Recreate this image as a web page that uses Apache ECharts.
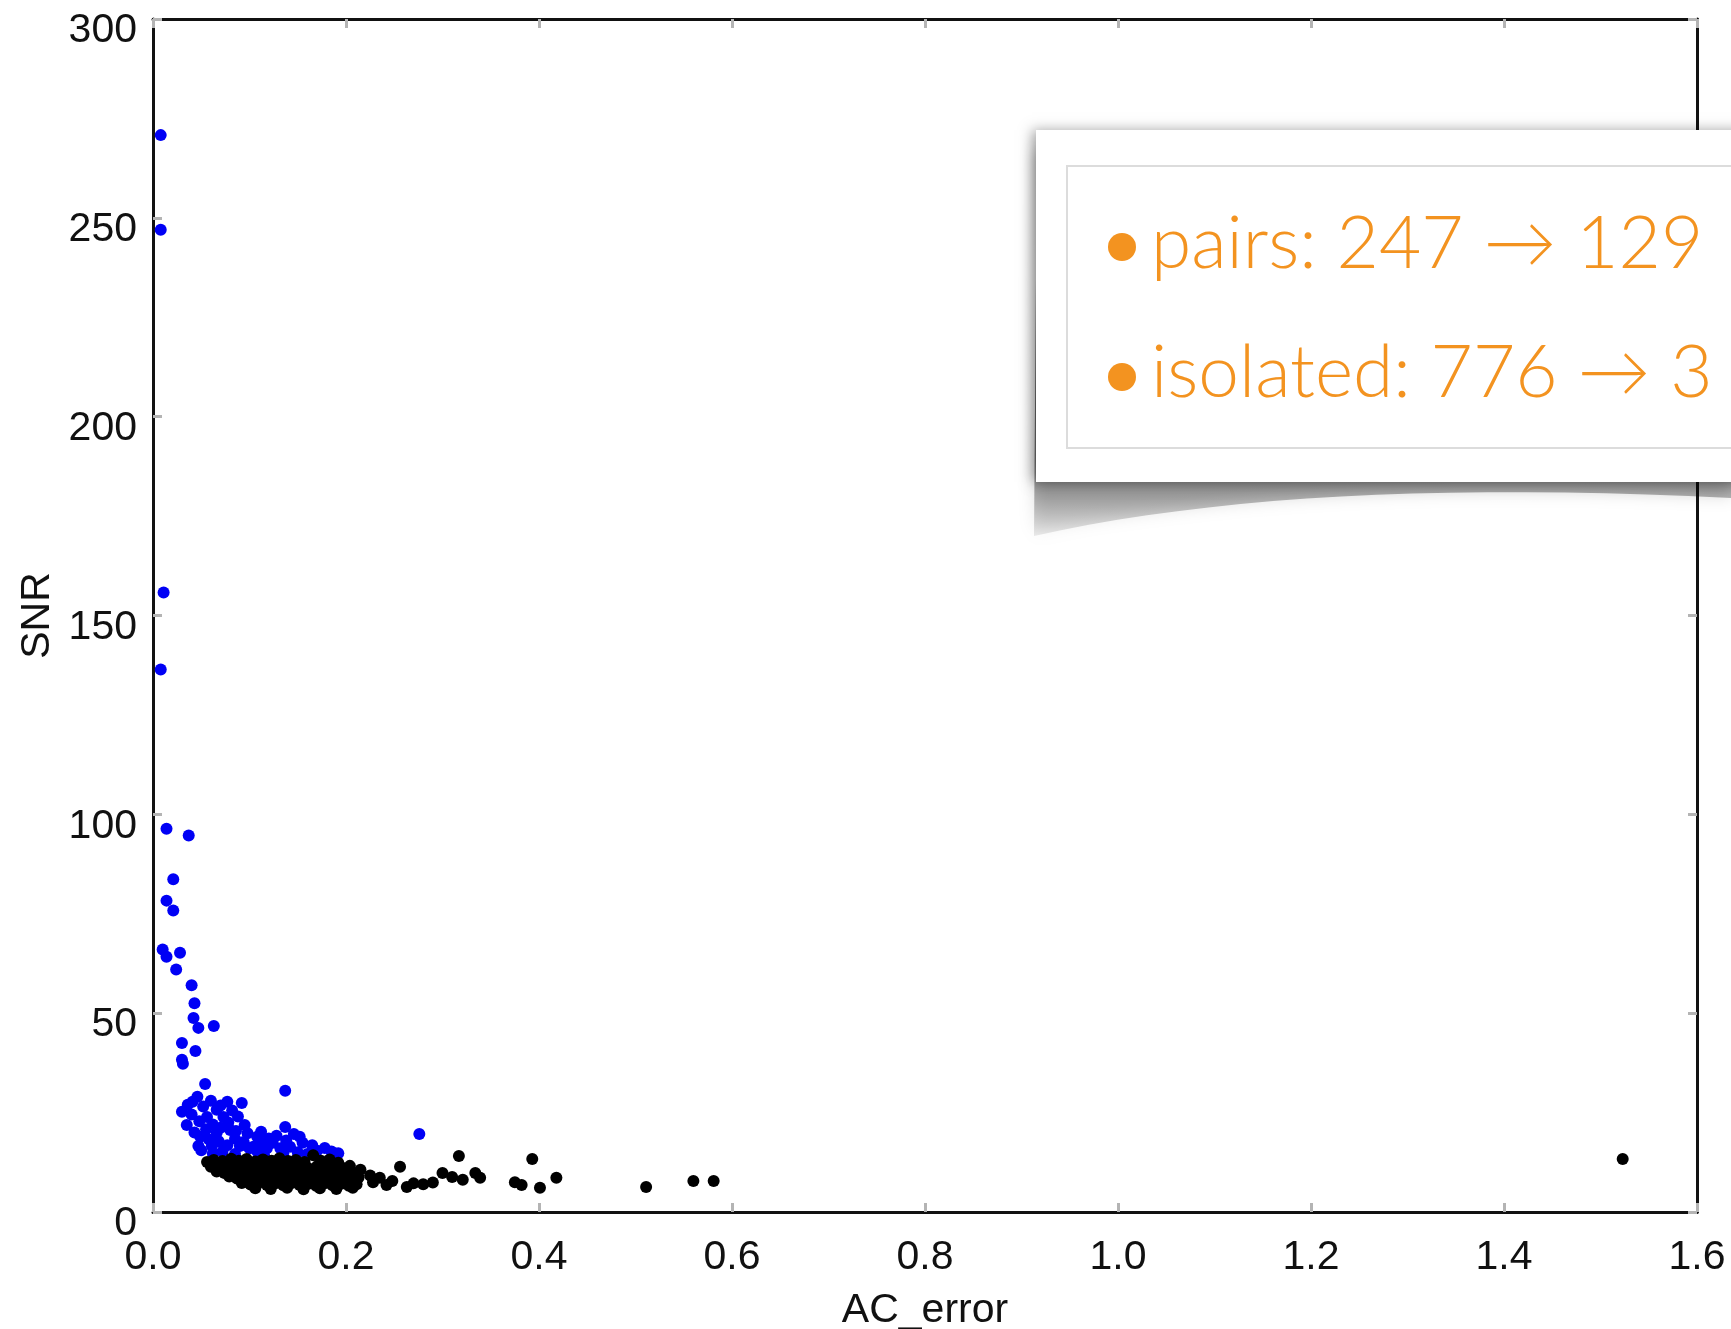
<!DOCTYPE html>
<html>
<head>
<meta charset="utf-8">
<script src="https://cdn.jsdelivr.net/npm/echarts@6/dist/echarts.min.js"></script>
<style>
  html, body { margin: 0; padding: 0; background: #fff; }
  #chart_1 { width: 1731px; height: 1329px; }
</style>
</head>
<body>
<div id="chart_1"></div>
<script>
// tick values
var xTicks = [0, 0.2, 0.4, 0.6, 0.8, 1.0, 1.2, 1.4, 1.6];
var yTicks = [0, 50, 100, 150, 200, 250, 300];

// blue points [AC_error, SNR]
var bluePts = [
    [0.008,270.8],[0.008,247],[0.011,155.8],[0.008,136.4],[0.014,96.4],[0.037,94.7],
    [0.021,83.7],[0.014,78.3],[0.021,75.8],[0.010,66],[0.014,64.2],[0.028,65.2],
    [0.024,61],[0.040,57],[0.043,52.5],[0.042,48.8],[0.047,46.3],[0.063,46.8],
    [0.030,42.5],[0.044,40.5],[0.030,38.3],[0.031,37.3],[0.054,32.2],[0.137,30.5],
    [0.046,29],[0.041,27.7],[0.077,27.7],[0.092,27.4],[0.030,25.2],[0.066,25.7],
    [0.056,23.9],[0.073,23.9],[0.035,21.9],[0.095,21.9],[0.137,21.4],[0.276,19.6],
    [0.152,18.9],[0.049,18.9],[0.066,19.9],[0.080,20.6],[0.108,18.9],
    [0.047,16.6],[0.061,16.6],[0.077,16.8],[0.090,16.6],[0.104,16.4],[0.118,16.0],
    [0.132,16.0],[0.142,16.4],[0.178,16.1],[0.192,14.8],
    [0.036,27.0],[0.052,26.5],[0.060,28.0],[0.070,26.8],[0.082,25.5],[0.088,24.0],
    [0.040,24.5],[0.048,22.8],[0.062,22.0],[0.070,21.2],[0.078,22.5],[0.086,20.4],
    [0.098,19.8],[0.112,20.2],[0.120,18.5],[0.128,19.2],[0.043,20.0],[0.055,20.8],
    [0.058,18.2],[0.068,17.8],[0.085,18.4],[0.094,17.6],[0.100,16.0],[0.112,17.2],
    [0.124,17.4],[0.138,18.0],[0.146,19.6],[0.155,17.4],[0.165,16.8],[0.050,15.5],
    [0.072,15.2],[0.108,15.3],[0.150,15.0],[0.170,15.4],[0.160,14.6],[0.135,14.8],
    [0.115,14.4],[0.085,14.6],[0.062,14.7],[0.185,15.2]
];

// black points [AC_error, SNR]
var blackPts = [
    [0.056,12.6],[0.063,13.1],[0.072,12.8],[0.081,13.4],[0.089,12.9],[0.097,13.3],
    [0.106,12.7],[0.114,13.2],[0.123,12.9],[0.131,13.5],[0.140,12.8],[0.148,13.1],
    [0.157,12.6],[0.166,14.3],[0.174,12.9],[0.183,13.2],[0.192,12.4],
    [0.060,11.4],[0.068,11.9],[0.076,11.2],[0.085,11.7],[0.093,11.3],[0.102,11.8],
    [0.110,11.1],[0.119,11.6],[0.127,11.3],[0.136,11.9],[0.144,11.2],[0.153,11.7],
    [0.161,11.0],[0.170,11.5],[0.178,11.2],[0.187,11.8],[0.196,11.1],[0.204,11.6],
    [0.066,10.2],[0.074,9.8],[0.083,10.4],[0.091,9.9],[0.099,10.3],[0.108,9.7],
    [0.116,10.2],[0.125,9.8],[0.133,10.4],[0.142,9.9],[0.150,10.3],[0.159,9.6],
    [0.167,10.1],[0.176,9.8],[0.184,10.3],[0.193,9.7],[0.201,10.2],[0.210,9.6],[0.215,10.6],
    [0.079,8.9],[0.087,8.4],[0.096,8.8],[0.104,8.3],[0.113,8.7],[0.121,8.2],
    [0.130,8.8],[0.138,8.3],[0.147,8.6],[0.155,8.1],[0.164,8.7],[0.172,8.2],
    [0.181,8.6],[0.189,8.1],[0.198,8.8],[0.206,8.3],[0.213,8.7],
    [0.092,7.3],[0.101,6.9],[0.110,7.4],[0.118,6.8],[0.127,7.2],[0.135,6.7],
    [0.144,7.3],[0.152,6.8],[0.161,7.1],[0.169,6.6],[0.178,7.2],[0.186,6.7],
    [0.195,7.1],[0.203,6.6],[0.211,7.0],
    [0.106,6.0],[0.122,5.8],[0.139,6.1],[0.156,5.7],[0.173,6.0],[0.190,5.8],[0.207,6.1],
    [0.225,9.2],[0.235,8.6],[0.248,7.8],[0.270,7.2],
    [0.317,14.1],[0.393,13.3],[0.256,11.4],[0.228,7.5],[0.242,6.8],[0.263,6.3],
    [0.280,7.0],[0.290,7.4],[0.300,9.8],[0.310,8.8],[0.321,8.1],[0.334,9.8],
    [0.339,8.6],[0.375,7.5],[0.382,6.8],[0.401,6.1],[0.418,8.6],[0.511,6.3],
    [0.560,7.8],[0.581,7.8],[1.523,13.3]
];

// callout text
var calloutLines = ['pairs: 247 \u2192 129', 'isolated: 776 \u2192 3'];

initChart();

// outline of the curled shadow under the callout (decoration only)
function curlShadow(){
    var pts = [[1037, 150], [1731, 150], [1731, 498]];
    for (var i = 1; i <= 20; i++) {
        var t = i / 20;
        var x = (1-t)*(1-t)*1731 + 2*(1-t)*t*1300 + t*t*1034;
        var y = (1-t)*(1-t)*498 + 2*(1-t)*t*476 + t*t*536;
        pts.push([x, y]);
    }
    return pts;
}

function initChart(){
    var myChart1 = echarts.init(document.getElementById('chart_1'));
    var font = 'Liberation Sans';
    var orange = '#f39320';

    var tickStyle = { show: true, inside: true, length: 9, lineStyle: { color: '#b4b4b4', width: 3 } };
    var lineStyle = { show: true, onZero: false, lineStyle: { color: '#111', width: 3 } };

    var option1 = {
        backgroundColor: '#fff',
        animation: false,
        grid: { left: 153, right: 34, top: 19, bottom: 117, outerBoundsMode: 'none' },
        xAxis: [
            {
                type: 'value', position: 'bottom',
                min: xTicks[0], max: xTicks[xTicks.length - 1], interval: xTicks[1] - xTicks[0],
                axisLine: lineStyle, axisTick: tickStyle, splitLine: { show: false },
                axisLabel: {
                    fontSize: 41, fontFamily: font, color: '#111', margin: 25,
                    formatter: function(v){ return v.toFixed(1); }
                },
                name: 'AC_error', nameLocation: 'middle', nameGap: 78,
                nameTextStyle: { fontSize: 41, fontFamily: font, color: '#111' }
            },
            {
                type: 'value', position: 'top',
                min: xTicks[0], max: xTicks[xTicks.length - 1], interval: xTicks[1] - xTicks[0],
                axisLine: lineStyle, axisTick: tickStyle, splitLine: { show: false },
                axisLabel: { show: false }
            }
        ],
        yAxis: [
            {
                type: 'value', position: 'left',
                min: yTicks[0], max: yTicks[yTicks.length - 1], interval: yTicks[1] - yTicks[0],
                axisLine: lineStyle, axisTick: tickStyle, splitLine: { show: false },
                axisLabel: {
                    fontSize: 41, fontFamily: font, color: '#111', margin: 16,
                    verticalAlign: 'top', lineHeight: 24
                },
                name: 'SNR', nameLocation: 'middle', nameGap: 95,
                nameTextStyle: { fontSize: 41, fontFamily: font, color: '#111' }
            },
            {
                type: 'value', position: 'right',
                min: yTicks[0], max: yTicks[yTicks.length - 1], interval: yTicks[1] - yTicks[0],
                axisLine: lineStyle, axisTick: tickStyle, splitLine: { show: false },
                axisLabel: { show: false }
            }
        ],
        series: [
            {
                name: 'blue', type: 'scatter', symbol: 'circle', symbolSize: 12,
                itemStyle: { color: '#0000f5', opacity: 1 }, data: bluePts
            },
            {
                name: 'black', type: 'scatter', symbol: 'circle', symbolSize: 12,
                itemStyle: { color: '#000', opacity: 1 }, data: blackPts
            }
        ]
    };
    myChart1.setOption(option1);

    myChart1.setOption({
        graphic: [
            {
                type: 'polygon', z: 100,
                shape: { points: curlShadow() },
                style: {
                    fill: {
                        type: 'linear', x: 0, y: 0, x2: 0, y2: 1,
                        colorStops: [
                            { offset: 0, color: 'rgba(0,0,0,0.8)' },
                            { offset: 0.8, color: 'rgba(0,0,0,0.5)' },
                            { offset: 1, color: 'rgba(0,0,0,0.08)' }
                        ]
                    },
                    shadowBlur: 16, shadowColor: 'rgba(0,0,0,0.45)'
                }
            },
            {
                type: 'rect', z: 101,
                shape: { x: 1036, y: 130, width: 720, height: 352 },
                style: { fill: '#fff', shadowBlur: 12, shadowOffsetX: -4, shadowColor: 'rgba(0,0,0,0.35)' }
            },
            {
                type: 'rect', z: 102,
                shape: { x: 1067, y: 166, width: 700, height: 282 },
                style: { fill: '#fff', stroke: '#dcdcdc', lineWidth: 2 }
            },
            { type: 'circle', z: 103, shape: { cx: 1122, cy: 247, r: 14 }, style: { fill: orange } },
            { type: 'circle', z: 103, shape: { cx: 1122, cy: 377, r: 14 }, style: { fill: orange } },
            {
                type: 'text', z: 103, x: 1151, y: 244,
                style: { text: calloutLines[0], font: '300 73px Lato', fill: orange, verticalAlign: 'middle' }
            },
            {
                type: 'text', z: 103, x: 1151, y: 373,
                style: { text: calloutLines[1], font: '300 73px Lato', fill: orange, verticalAlign: 'middle' }
            }
        ]
    });
}
</script>
</body>
</html>
